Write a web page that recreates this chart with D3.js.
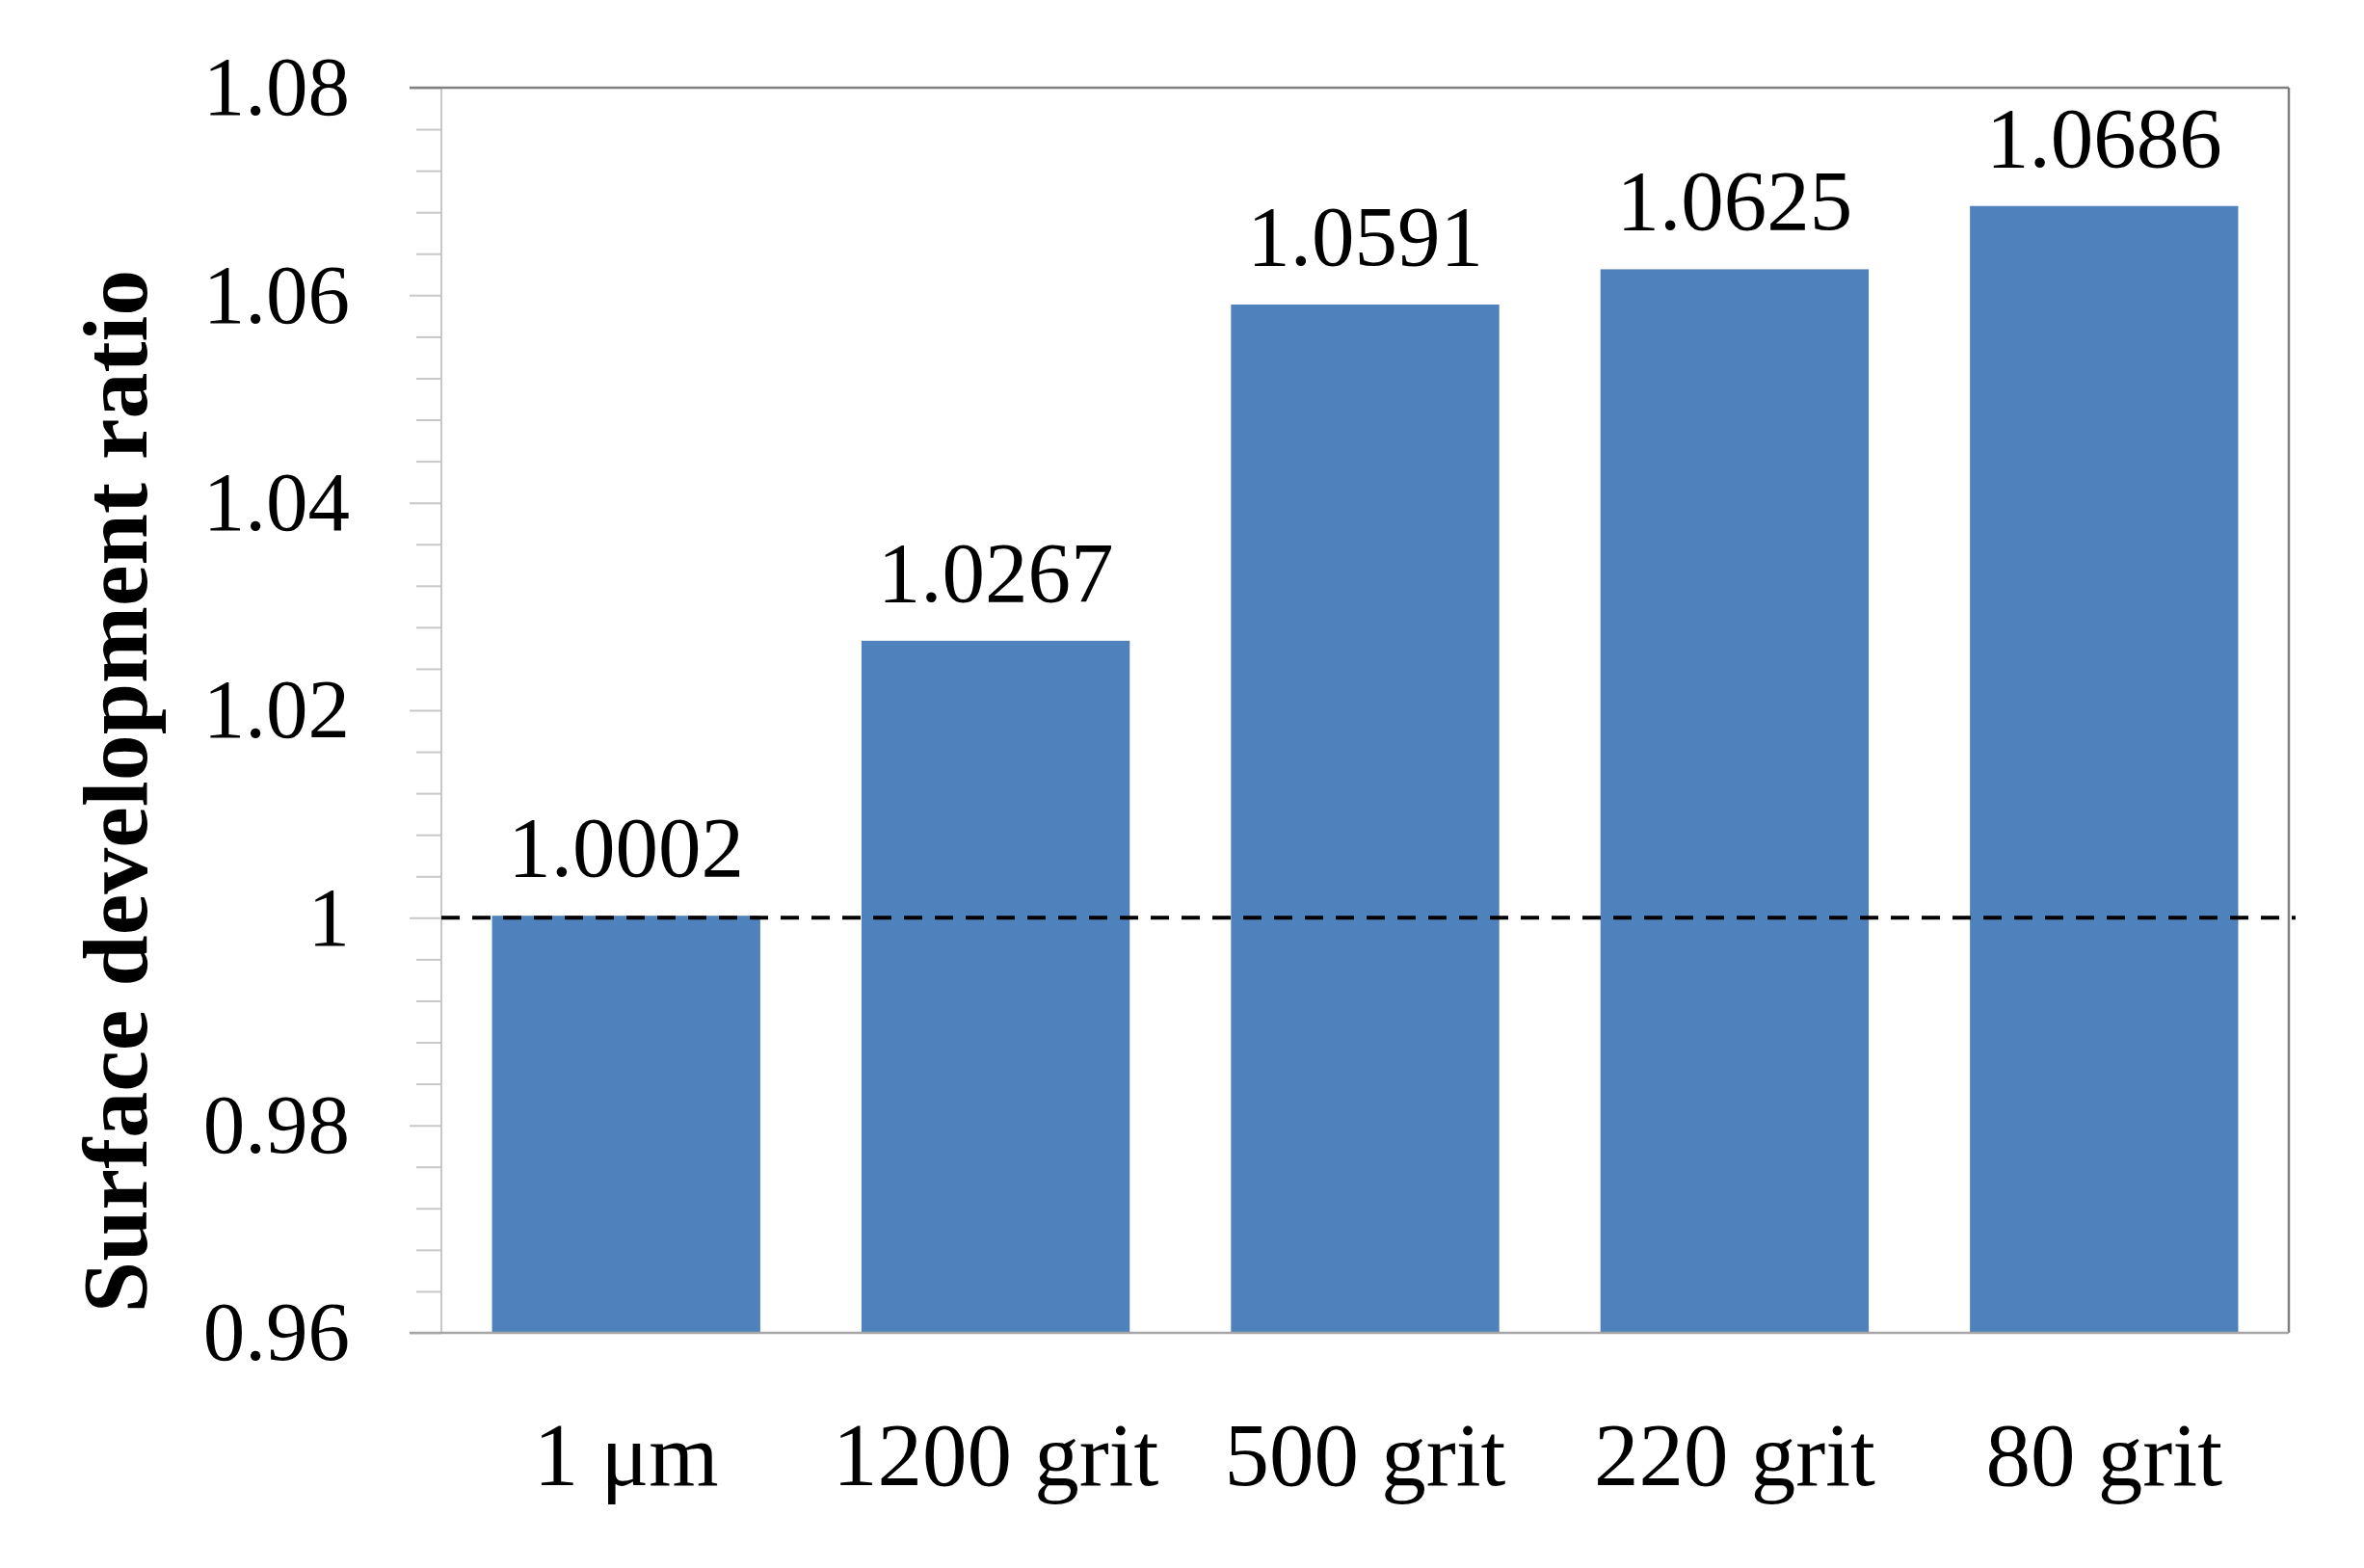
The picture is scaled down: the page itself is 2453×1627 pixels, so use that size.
<!DOCTYPE html>
<html>
<head>
<meta charset="utf-8">
<script src="https://cdn.jsdelivr.net/npm/d3@7"></script>
<style>
	body { margin: 0; background: #fff; }
	svg { display: block; }
	text { font-family: "Liberation Serif", "DejaVu Serif", serif; fill: #000; }
</style>
</head>
<body>
<div id="chart"></div>
<script>
//------------------------------------------------------------------------------
// Data
//------------------------------------------------------------------------------

var categories = ["1 \u03bcm", "1200 grit", "500 grit", "220 grit", "80 grit"];
var ratios = [1.0002, 1.0267, 1.0591, 1.0625, 1.0686];
var value_labels = ["1.0002", "1.0267", "1.0591", "1.0625", "1.0686"];
var y_ticks = [0.96, 0.98, 1.00, 1.02, 1.04, 1.06, 1.08];
var y_title = "Surface development ratio";
var reference_line = 1.0;

//------------------------------------------------------------------------------
// Plotting
//------------------------------------------------------------------------------

function plot_bars() {
	var width = 2453, height = 1627;
	var left = 458, right = 2375, top = 91, bottom = 1383;

	var svg = d3.select("#chart")
		.append("svg")
		.attr("width", width)
		.attr("height", height);

	var x = d3.scaleBand()
		.domain(categories)
		.range([left, right])
		.paddingInner(0.274)
		.paddingOuter(0.137);

	var y = d3.scaleLinear()
		.domain([0.96, 1.08])
		.range([bottom, top]);

	// minor ticks every 0.004
	var minor = d3.range(0, 31).map(function(i) { return 0.96 + i * 0.004; })
		.filter(function(v, i) { return i % 5 != 0; });

	svg.append("g")
		.attr("transform", "translate(" + left + ",0)")
		.call(d3.axisLeft(y).tickValues(minor).tickSize(26).tickFormat(""))
		.call(function(g) {
			g.select(".domain").remove();
			g.selectAll("line").attr("stroke", "#c8c8c8").attr("stroke-width", 2);
		});

	// major ticks + labels
	svg.append("g")
		.attr("transform", "translate(" + left + ",0)")
		.call(d3.axisLeft(y).tickValues(y_ticks).tickSize(33).tickPadding(62)
			.tickFormat(function(d) { return String(+d.toFixed(2)); }))
		.call(function(g) {
			g.select(".domain").remove();
			g.selectAll("line").attr("stroke", "#c8c8c8").attr("stroke-width", 2);
			g.selectAll("text")
				.attr("font-family", "Liberation Serif")
				.attr("font-size", 87)
				.attr("fill", "#000");
		});

	// bars
	svg.append("g")
		.selectAll("rect")
		.data(ratios)
		.join("rect")
		.attr("x", function(d, i) { return x(categories[i]); })
		.attr("width", x.bandwidth())
		.attr("y", function(d) { return y(d); })
		.attr("height", function(d) { return y(0.96) - y(d); })
		.attr("fill", "#4f81bd");

	// frame
	svg.append("line")
		.attr("x1", left).attr("x2", left)
		.attr("y1", top).attr("y2", bottom)
		.attr("stroke", "#c8c8c8").attr("stroke-width", 2);
	svg.append("line")
		.attr("x1", left - 33).attr("x2", right)
		.attr("y1", top).attr("y2", top)
		.attr("stroke", "#808080").attr("stroke-width", 2.5);
	svg.append("line")
		.attr("x1", right).attr("x2", right)
		.attr("y1", top).attr("y2", bottom)
		.attr("stroke", "#808080").attr("stroke-width", 2.5);
	svg.append("line")
		.attr("x1", left - 33).attr("x2", right)
		.attr("y1", bottom).attr("y2", bottom)
		.attr("stroke", "#a6a6a6").attr("stroke-width", 2.5);

	// dashed reference line at 1
	svg.append("line")
		.attr("x1", left).attr("x2", right + 7)
		.attr("y1", y(reference_line)).attr("y2", y(reference_line))
		.attr("stroke", "#000")
		.attr("stroke-width", 4)
		.attr("stroke-dasharray", "19,13");

	// value labels
	svg.append("g")
		.selectAll("text")
		.data(ratios)
		.join("text")
		.attr("x", function(d, i) { return x(categories[i]) + x.bandwidth() / 2; })
		.attr("y", function(d) { return y(d) - 41; })
		.attr("text-anchor", "middle")
		.attr("font-size", 89)
		.text(function(d, i) { return value_labels[i]; });

	// category labels
	svg.append("g")
		.selectAll("text")
		.data(categories)
		.join("text")
		.attr("x", function(d) { return x(d) + x.bandwidth() / 2; })
		.attr("y", 1541)
		.attr("text-anchor", "middle")
		.attr("font-size", 93)
		.text(function(d) { return d; });

	// y title
	svg.append("text")
		.attr("transform", "translate(152,821) rotate(-90)")
		.attr("text-anchor", "middle")
		.attr("font-size", 96)
		.attr("font-weight", "bold")
		.text(y_title);
}

//------------------------------------------------------------------------------
// Main
//------------------------------------------------------------------------------

function main() {
	plot_bars();
}

main();
</script>
</body>
</html>
